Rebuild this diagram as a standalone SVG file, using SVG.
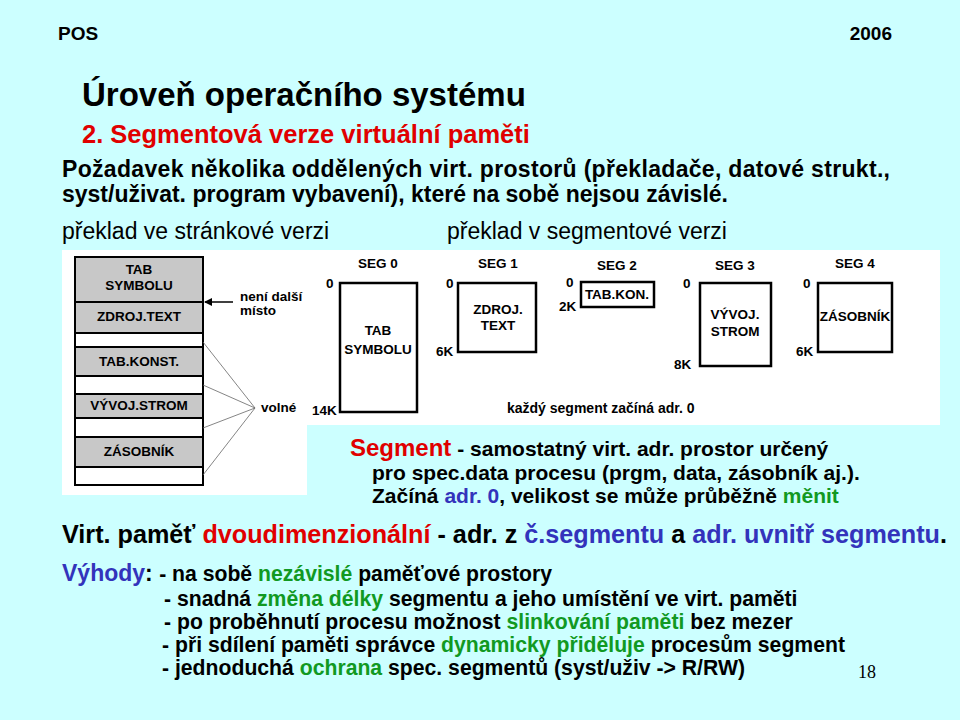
<svg xmlns="http://www.w3.org/2000/svg" width="960" height="720" viewBox="0 0 960 720">
<style>
text{font-family:"Liberation Sans",Arial,sans-serif;font-weight:bold;fill:#000}
.d{font-size:13.5px}
.m{text-anchor:middle}
.r{fill:#e00000}.b{fill:#3333bb}.g{fill:#119922}
.box{fill:#fff;stroke:#000;stroke-width:2.5}
.gr{fill:#c8c8c8;stroke:#000;stroke-width:2}
.wr{fill:#fff;stroke:#000;stroke-width:2}
</style>
<defs><marker id="ah" markerWidth="8" markerHeight="8" refX="7" refY="4" orient="auto" markerUnits="userSpaceOnUse"><path d="M0,0 L8,4 L0,8 z" fill="#000"/></marker></defs>
<rect width="960" height="720" fill="#ccffff"/>
<rect x="62" y="250" width="878" height="175" fill="#fff"/>
<rect x="62" y="250" width="245" height="245" fill="#fff"/>
<text x="58" y="40" font-size="19">POS</text>
<text x="892" y="40" font-size="19" text-anchor="end">2006</text>
<text x="82" y="106" font-size="33">Úroveň operačního systému</text>
<text x="82" y="143" font-size="25.5" class="r">2. Segmentová verze virtuální paměti</text>
<text x="62" y="177" font-size="23" textLength="828">Požadavek několika oddělených virt. prostorů (překladače, datové strukt.,</text>
<text x="62" y="202" font-size="23">syst/uživat. program vybavení), které na sobě nejsou závislé.</text>
<text x="62" y="239" font-size="23" style="font-weight:normal">překlad ve stránkové verzi</text>
<text x="447" y="239" font-size="23" style="font-weight:normal">překlad v segmentové verzi</text>
<g id="stack">
<rect class="gr" x="75" y="257" width="128" height="45"/>
<rect class="gr" x="75" y="302" width="128" height="31"/>
<rect class="wr" x="75" y="333" width="128" height="14"/>
<rect class="gr" x="75" y="347" width="128" height="29"/>
<rect class="wr" x="75" y="376" width="128" height="18"/>
<rect class="gr" x="75" y="394" width="128" height="24"/>
<rect class="wr" x="75" y="418" width="128" height="19"/>
<rect class="gr" x="75" y="437" width="128" height="30"/>
<rect class="wr" x="75" y="467" width="128" height="18"/>
<text class="d m" x="139" y="274">TAB</text>
<text class="d m" x="139" y="290">SYMBOLU</text>
<text class="d m" x="139" y="321">ZDROJ.TEXT</text>
<text class="d m" x="139" y="366">TAB.KONST.</text>
<text class="d m" x="139" y="410">VÝVOJ.STROM</text>
<text class="d m" x="139" y="456">ZÁSOBNÍK</text>
</g>
<g id="connectors" stroke="#000" fill="none">
<line x1="233" y1="302" x2="205" y2="302" stroke-width="1.5" marker-end="url(#ah)"/>
<g stroke="#666" stroke-width="0.8">
<line x1="203" y1="342" x2="255" y2="408"/>
<line x1="203" y1="385" x2="255" y2="408"/>
<line x1="203" y1="428" x2="255" y2="408"/>
<line x1="203" y1="475" x2="255" y2="408"/>
</g>
</g>
<text class="d" x="240" y="301">není další</text>
<text class="d" x="240" y="315">místo</text>
<text class="d" x="261" y="412">volné</text>
<g id="seg0">
<rect class="box" x="340" y="283" width="77" height="129"/>
<text class="d m" x="378" y="268">SEG 0</text>
<text class="d" x="326" y="288">0</text>
<text class="d" x="312" y="415">14K</text>
<text class="d m" x="378" y="335">TAB</text>
<text class="d m" x="378" y="354">SYMBOLU</text>
</g>
<g id="seg1">
<rect class="box" x="458" y="283" width="78" height="69"/>
<text class="d m" x="498" y="268">SEG 1</text>
<text class="d" x="446" y="288">0</text>
<text class="d" x="436" y="356">6K</text>
<text class="d m" x="498" y="314">ZDROJ.</text>
<text class="d m" x="498" y="330">TEXT</text>
</g>
<g id="seg2">
<rect class="box" x="581" y="282" width="73" height="25"/>
<text class="d m" x="617" y="270">SEG 2</text>
<text class="d" x="566" y="287">0</text>
<text class="d" x="559" y="311">2K</text>
<text class="d m" x="617" y="299" font-size="13">TAB.KON.</text>
</g>
<g id="seg3">
<rect class="box" x="700" y="283" width="71" height="83"/>
<text class="d m" x="735" y="270">SEG 3</text>
<text class="d" x="683" y="288">0</text>
<text class="d" x="674" y="369">8K</text>
<text class="d m" x="735" y="319">VÝVOJ.</text>
<text class="d m" x="735" y="336">STROM</text>
</g>
<g id="seg4">
<rect class="box" x="818" y="283" width="74" height="69"/>
<text class="d m" x="855" y="268">SEG 4</text>
<text class="d" x="803" y="288">0</text>
<text class="d" x="796" y="356">6K</text>
<text class="d m" x="855" y="321" font-size="12.5">ZÁSOBNÍK</text>
</g>
<text x="507" y="413" font-size="14">každý segment začíná adr. 0</text>
<text x="350" y="456" font-size="21"><tspan class="r" font-size="24">Segment</tspan>  -  samostatný virt. adr. prostor určený</text>
<text x="372" y="480" font-size="21">pro spec.data procesu (prgm, data, zásobník aj.).</text>
<text x="372" y="503" font-size="21">Začíná <tspan class="b">adr. 0</tspan>, velikost se může průběžně <tspan class="g">měnit</tspan></text>
<text x="62" y="543" font-size="25.2">Virt. paměť <tspan class="r">dvoudimenzionální</tspan> - adr. z <tspan class="b">č.segmentu</tspan> a <tspan class="b">adr. uvnitř segmentu</tspan>.</text>
<text x="62" y="581" font-size="23"><tspan class="b">Výhody</tspan>: <tspan font-size="21.2">- na sobě <tspan class="g">nezávislé</tspan> paměťové prostory</tspan></text>
<text x="164" y="606" font-size="21.2">- snadná <tspan class="g">změna délky</tspan> segmentu a jeho umístění ve virt. paměti</text>
<text x="164" y="629" font-size="21.2">- po proběhnutí procesu možnost <tspan class="g">slinkování paměti</tspan> bez mezer</text>
<text x="162" y="652" font-size="21.2">- při sdílení paměti správce <tspan class="g">dynamicky přiděluje</tspan> procesům segment</text>
<text x="162" y="675" font-size="21.2">- jednoduchá <tspan class="g">ochrana</tspan> spec. segmentů (syst/uživ -&gt; R/RW)</text>
<text x="858" y="678" font-size="18" style="font-family:'Liberation Serif',serif;font-weight:normal">18</text>
</svg>
